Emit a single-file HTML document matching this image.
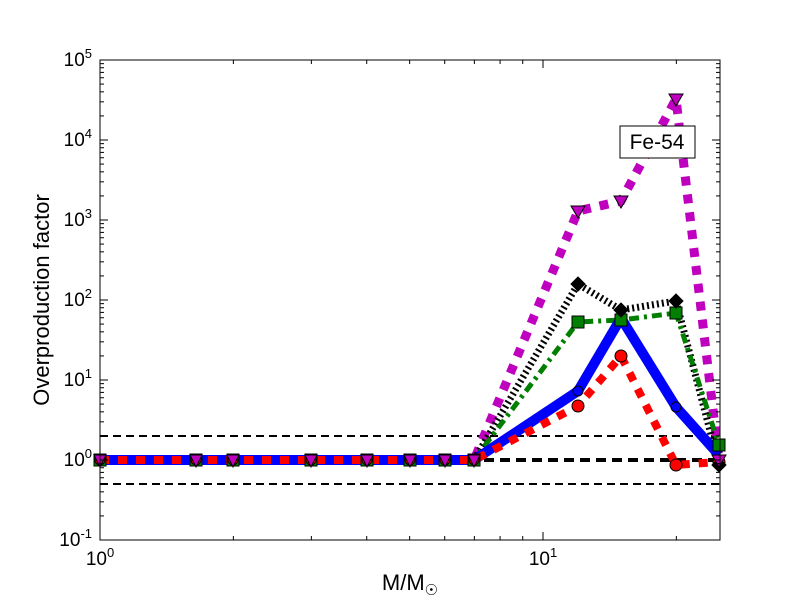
<!DOCTYPE html>
<html><head><style>body{margin:0;background:#fff}svg{display:block}</style></head>
<body>
<svg id="s" width="800" height="600" xmlns="http://www.w3.org/2000/svg" font-family="Liberation Sans, sans-serif">
<rect width="800" height="600" fill="#fff"/>
<g id="lines" fill="none" stroke-linejoin="miter">
<line x1="100" y1="436" x2="720" y2="436" stroke="#000" stroke-width="2" stroke-dasharray="8,5"/>
<line x1="100" y1="484" x2="720" y2="484" stroke="#000" stroke-width="2" stroke-dasharray="8,5"/>
<line x1="100" y1="460" x2="720" y2="460" stroke="#000" stroke-width="4" stroke-dasharray="10,6"/>
<polyline points="100,460 196,460 233,460 311,460 367,460 410,460 445,460 474,460 578,211 621,201 676,99 719,460" stroke="#bf00bf" stroke-width="9" stroke-dasharray="9,9"/>
<polyline points="100,460 196,460 233,460 311,460 367,460 410,460 445,460 474,460 578,284 621,310 676,301 719,465" stroke="#000" stroke-width="7" stroke-dasharray="2,3"/>
<polyline points="100,460 196,460 233,460 311,460 367,460 410,460 445,460 474,460 578,322 621,320 676,313 719,445" stroke="#007f00" stroke-width="5" stroke-dasharray="10,5,3,5"/>
<polyline points="100,460 196,460 233,460 311,460 367,460 410,460 445,460 474,460 578,391 621,318 676,407 719,455" stroke="#0000ff" stroke-width="10"/>
<polyline points="100,460 196,460 233,460 311,460 367,460 410,460 445,460 474,460 578,406 621,356 676,465 719,462" stroke="#ff0000" stroke-width="8" stroke-dasharray="9,9"/>
</g>
<g id="mk" stroke="#000" stroke-width="1"></g>
<rect x="100" y="60" width="620" height="480" fill="none" stroke="#000" stroke-width="1"/>
<g id="ticks" stroke="#000" stroke-width="1"></g>
<g font-size="19" fill="#000">
<text x="100" y="565" text-anchor="middle">10<tspan dy="-8" font-size="13">0</tspan></text>
<text x="543" y="565" text-anchor="middle">10<tspan dy="-8" font-size="13">1</tspan></text>
</g>
<g id="ylab" font-size="19" fill="#000" text-anchor="end"></g>
<text x="410" y="590" font-size="22" text-anchor="middle">M/M<tspan font-size="15" dy="5">☉</tspan></text>
<text transform="translate(49,300) rotate(-90)" font-size="22" text-anchor="middle">Overproduction factor</text>
<rect x="620" y="126" width="75" height="32" fill="#fff" stroke="#000"/>
<text x="657" y="149" font-size="21" text-anchor="middle">Fe-54</text>
</svg>
<script>
var ns="http://www.w3.org/2000/svg",t=document.getElementById('ticks');
function L(a,b,c,d){var l=document.createElementNS(ns,'line');l.setAttribute('x1',a);l.setAttribute('y1',b);l.setAttribute('x2',c);l.setAttribute('y2',d);t.appendChild(l);}
function X(m){return 100+443*Math.log10(m);}
[1,10].forEach(function(m){var x=X(m);L(x,540,x,532);L(x,60,x,68);});
[2,3,4,5,6,7,8,9,20].forEach(function(m){var x=X(m);L(x,540,x,536);L(x,60,x,64);});
var yl=document.getElementById('ylab');
for(var e=-1;e<=5;e++){var y=540-80*(e+1);L(100,y,108,y);L(720,y,712,y);
var tx=document.createElementNS(ns,'text');tx.setAttribute('x',92);tx.setAttribute('y',y+6);tx.innerHTML='10<tspan dy="-8" font-size="13">'+e+'</tspan>';yl.appendChild(tx);
if(e<5)for(var k=2;k<10;k++){var yy=y-80*Math.log10(k);L(100,yy,104,yy);L(720,yy,716,yy);}}
var mk=document.getElementById('mk'),xs=[100,196,233,311,367,410,445,474];
function add(s){mk.insertAdjacentHTML('beforeend',s);}
xs.forEach(function(x){add('<rect x="'+(x-6)+'" y="454" width="12" height="12" fill="#007f00"/>');add('<circle cx="'+x+'" cy="460" r="5" fill="#f00"/>');add('<polygon points="'+(x-6)+',455 '+(x+6)+',455 '+x+',467" fill="#bf00bf"/>');});
[[578,406],[621,356],[676,465],[719,462]].forEach(function(p){add('<circle cx="'+p[0]+'" cy="'+p[1]+'" r="6" fill="#f00"/>');});
[[578,322],[621,320],[676,313],[719,445]].forEach(function(p){add('<rect x="'+(p[0]-6)+'" y="'+(p[1]-6)+'" width="12" height="12" fill="#007f00"/>');});
[[578,284],[621,310],[676,301],[719,465]].forEach(function(p){var x=p[0],y=p[1];add('<polygon points="'+x+','+(y-7)+' '+(x+7)+','+y+' '+x+','+(y+7)+' '+(x-7)+','+y+'" fill="#000"/>');});
[[578,211],[621,201],[676,99],[719,460]].forEach(function(p){var x=p[0],y=p[1];add('<polygon points="'+(x-7)+','+(y-5)+' '+(x+7)+','+(y-5)+' '+x+','+(y+7)+'" fill="#bf00bf"/>');});
[[578,391],[676,407]].forEach(function(p){add('<circle cx="'+p[0]+'" cy="'+p[1]+'" r="5" fill="#00f"/>');});
</script>
</body></html>
